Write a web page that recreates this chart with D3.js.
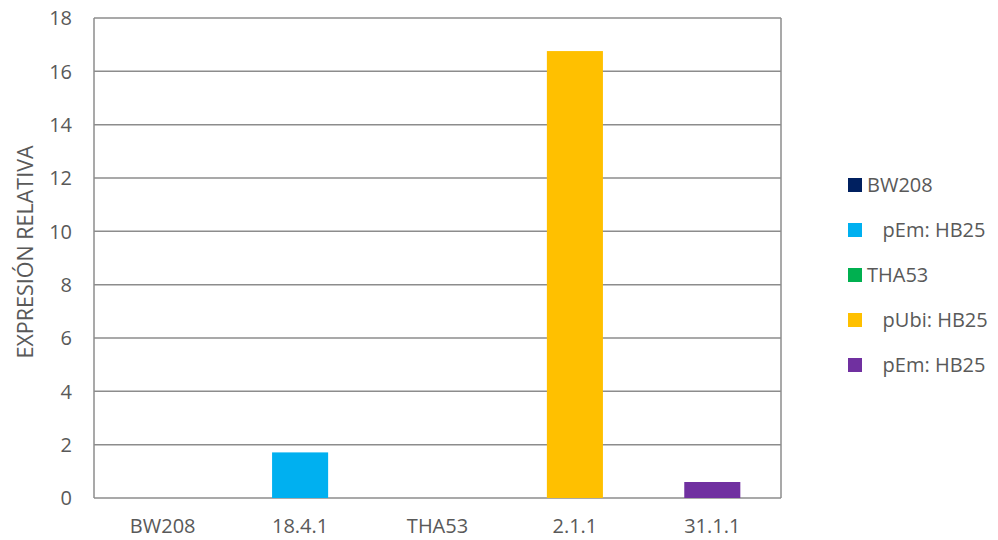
<!DOCTYPE html>
<html>
<head>
<meta charset="utf-8">
<script src="https://cdn.jsdelivr.net/npm/d3@7"></script>
<style>
  html, body { margin: 0; padding: 0; background: #fff; }
  svg { display: block; font-family: "Open Sans", "Liberation Sans", sans-serif; }
  text { white-space: pre; }
</style>
</head>
<body>
<svg id="chart" width="998" height="540"></svg>
<script>
// ---- data ----
const categories = ["BW208", "18.4.1", "THA53", "2.1.1", "31.1.1"];
const values = [0, 1.71, 0, 16.76, 0.6];
const colors = ["#002060", "#00B0F0", "#00B050", "#FFC000", "#7030A0"];
const legendLabels = ["BW208", "   pEm: HB25", "THA53", "   pUbi: HB25", "   pEm: HB25"];
const yTicks = [0, 2, 4, 6, 8, 10, 12, 14, 16, 18];
const yTitle = "EXPRESIÓN RELATIVA";

// ---- layout ----
const svg = d3.select("#chart");
const plotL = 94, plotR = 781, plotT = 18, plotB = 498;
const textColor = "#595959";
const gridColor = "#8c8c8c";

const x = d3.scaleBand().domain(categories).range([plotL, plotR])
  .paddingInner(0.592).paddingOuter(0.296);
const y = d3.scaleLinear().domain([0, 18]).range([plotB, plotT]);

// gridlines
svg.append("g").selectAll("line").data(yTicks).join("line")
  .attr("x1", plotL).attr("x2", plotR)
  .attr("y1", d => y(d)).attr("y2", d => y(d))
  .attr("stroke", gridColor).attr("stroke-width", 1.5);

// left and right borders
svg.append("line").attr("x1", plotL).attr("x2", plotL).attr("y1", plotT).attr("y2", plotB)
  .attr("stroke", gridColor).attr("stroke-width", 1.5);
svg.append("line").attr("x1", plotR).attr("x2", plotR).attr("y1", plotT).attr("y2", plotB)
  .attr("stroke", gridColor).attr("stroke-width", 1.5);

// bars
svg.append("g").selectAll("rect").data(categories).join("rect")
  .attr("x", d => x(d))
  .attr("width", x.bandwidth())
  .attr("y", (d, i) => y(values[i]))
  .attr("height", (d, i) => y(0) - y(values[i]))
  .attr("fill", (d, i) => colors[i]);

// y tick labels
svg.append("g").selectAll("text").data(yTicks).join("text")
  .attr("x", 72).attr("y", d => y(d))
  .attr("dy", "0.36em")
  .attr("text-anchor", "end")
  .attr("font-size", 20)
  .attr("fill", textColor)
  .text(d => d);

// x labels
svg.append("g").selectAll("text").data(categories).join("text")
  .attr("x", d => x(d) + x.bandwidth() / 2)
  .attr("y", 533)
  .attr("text-anchor", "middle")
  .attr("font-size", 20)
  .attr("fill", textColor)
  .text(d => d);

// y title
svg.append("text")
  .attr("transform", `translate(33, ${(plotT + plotB) / 2 - 6}) rotate(-90)`)
  .attr("text-anchor", "middle")
  .attr("font-size", 21.5)
  .attr("fill", textColor)
  .text(yTitle);

// legend
const lg = svg.append("g").selectAll("g").data(legendLabels).join("g")
  .attr("transform", (d, i) => `translate(848, ${178 + i * 45})`);
lg.append("rect").attr("width", 14).attr("height", 14)
  .attr("fill", (d, i) => colors[i]);
lg.append("text")
  .attr("x", 19).attr("y", 7).attr("dy", "0.36em")
  .attr("font-size", 20)
  .attr("fill", textColor)
  .text(d => d);
</script>
</body>
</html>
